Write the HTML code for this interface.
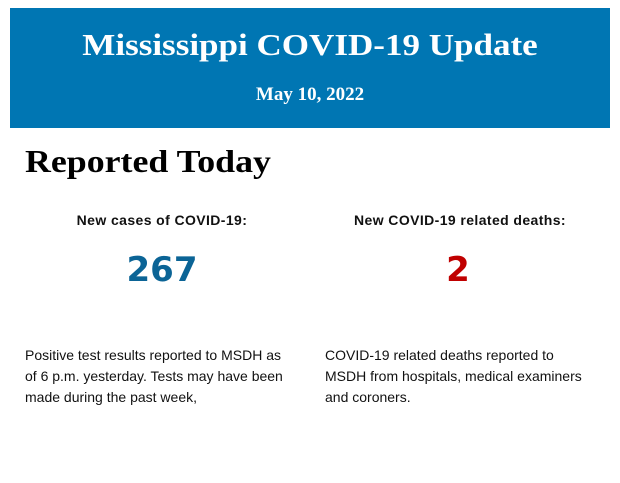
<!DOCTYPE html>
<html><head><meta charset="utf-8"><style>
body{margin:0;width:620px;height:483px;background:#fff;position:relative;overflow:hidden}
.hdr{position:absolute;left:10px;top:8px;width:600px;height:120px;background:#0076b3;color:#fff;font-family:"Liberation Serif",serif;font-weight:bold;text-align:center}
.t1{position:absolute;left:0;right:0;top:19px;font-size:31px;line-height:36px;transform:scaleX(1.13)}
.t2{position:absolute;left:0;right:0;top:76px;font-size:19px;line-height:22px}
.rt{position:absolute;left:25px;top:142px;font-family:"Liberation Serif",serif;font-weight:bold;font-size:32px;line-height:38px;color:#000;transform:scaleX(1.12);transform-origin:left center}
.lab{position:absolute;top:212px;width:300px;text-align:center;font-family:"Liberation Sans",sans-serif;font-weight:bold;font-size:14px;color:#111;letter-spacing:0.4px}
.num{position:absolute;top:250px;width:300px;text-align:center;font-family:"DejaVu Sans",sans-serif;font-weight:bold;font-size:34px;line-height:40px}
.p{position:absolute;top:345px;width:272px;font-family:"Liberation Sans",sans-serif;font-size:14px;line-height:21px;color:#111}
</style></head><body>
<div class="hdr"><div class="t1">Mississippi COVID-19 Update</div><div class="t2">May 10, 2022</div></div>
<div class="rt">Reported Today</div>
<div class="lab" style="left:12px">New cases of COVID-19:</div>
<div class="lab" style="left:310px">New COVID-19 related deaths:</div>
<div class="num" style="left:12px;color:#0b6496">267</div>
<div class="num" style="left:308px;color:#c00000">2</div>
<div class="p" style="left:25px;width:268px">Positive test results reported to MSDH as of 6 p.m. yesterday. Tests may have been made during the past week,</div>
<div class="p" style="left:325px">COVID-19 related deaths reported to MSDH from hospitals, medical examiners and coroners.</div>
</body></html>
